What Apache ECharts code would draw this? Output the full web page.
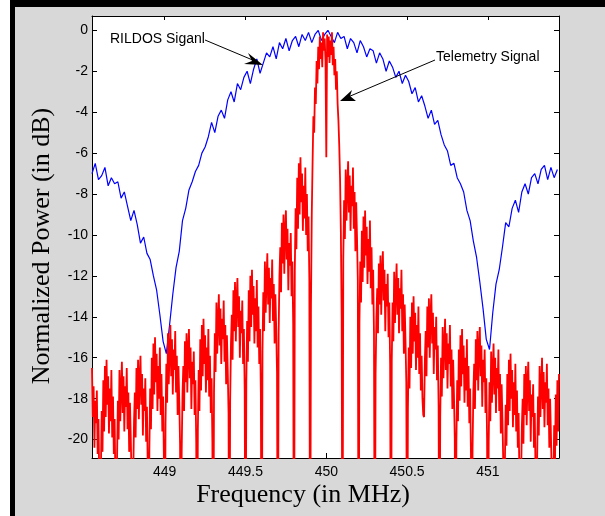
<!DOCTYPE html>
<html>
<head>
<meta charset="utf-8">
<script src="https://cdn.jsdelivr.net/npm/echarts@6/dist/echarts.min.js"></script>
<style>
  html, body { margin: 0; padding: 0; background: #fff; }
  #chart { width: 605px; height: 516px; }
</style>
</head>
<body>
<div id="chart"></div>
<script>
// sample grids (MHz)
const blueStart = 448.55, blueStep = 0.02;
const redStart = 448.55, redStep = 0.005;

// RILDOS signal, dB, one value every 0.02 MHz from 448.55
const bluePower = [
  -7.0, -6.5, -7.3, -7.1, -6.7, -7.6, -7.2, -7.5, -7.4, -8.2,
  -7.9, -8.6, -9.3, -8.8, -9.5, -10.4, -10.1, -10.9, -11.2, -12.0,
  -12.7, -13.9, -15.2,
  -15.8, -14.4, -12.9, -11.6, -10.8, -9.3, -8.7, -7.8, -7.4, -6.9,
  -6.6, -6.0, -5.7, -5.2, -4.5, -5.0, -4.2, -3.9, -4.3, -3.4,
  -3.0, -3.5, -2.6, -2.9, -2.3, -2.0, -2.6, -1.9, -1.4, -2.1,
  -1.6, -1.1, -1.3, -0.8, -1.4, -0.6, -0.9, -0.4, -1.0, -0.5,
  -0.3, -0.8, -0.2, -0.5, -0.1, -0.6, -0.2, 0.0, -0.5, -0.2,
  0.0, -0.3, -0.6, -0.1, -0.4, -0.3, -0.9, -0.4, -0.6, -1.1,
  -0.5, -0.8, -1.3, -0.9, -1.0, -1.6, -1.1, -1.4, -2.0, -1.5,
  -1.8, -2.3, -2.0, -2.6, -2.2, -2.5, -3.1, -2.8, -3.5, -3.2,
  -3.7, -4.3, -3.9, -4.6, -4.4, -5.1, -5.6, -5.9, -6.6, -6.5,
  -7.2, -7.5, -7.9, -8.8, -9.3, -10.3, -11.1, -12.3, -13.6, -15.1,
  -15.6, -13.8, -12.4, -11.7, -10.6, -9.4, -9.6, -8.7, -8.3, -8.9,
  -7.9, -7.5, -8.0, -7.2, -7.0, -7.5, -6.8, -6.6, -7.3, -6.7,
  -7.2, -6.8
];

// Telemetry signal, dB, one value every 0.005 MHz from 448.55
const redPower = [
  -16.5, -18.9, -17.4, -20.4, -18.1, -19.2, -17.6, -20.7, -19.0, -22.0,
  // 448.60
  -30, -21.6, -18.6, -20.6, -17.1, -19.6, -16.4, -18.9, -16.1, -18.3, -16.9, -19.7, -17.5, -19.1, -16.6, -19.9, -17.9, -20.7, -19.0, -22.1,
  -30, -21.0, -18.1, -20.0, -16.6, -19.1, -17.5, -16.2, -18.7, -16.9, -19.6, -17.4, -18.4, -16.5, -19.5, -17.7, -20.6, -18.2, -19.9, -22.0,
  -30, -21.9, -19.1, -17.7, -19.9, -16.5, -18.5, -16.1, -19.0, -16.9, -15.9, -18.3, -16.8, -19.8, -17.5, -18.6, -17.0, -20.1, -18.4, -21.4,
  -30, -20.5, -17.5, -19.5, -16.0, -18.5, -15.3, -17.8, -15.0, -17.2, -15.8, -18.6, -16.4, -18.0, -15.5, -18.8, -16.8, -19.6, -17.9, -21.0,
  // 449.00
  -30, -19.2, -16.3, -18.2, -14.8, -17.3, -15.7, -14.4, -16.9, -15.1, -17.8, -15.6, -16.6, -14.7, -17.7, -15.9, -18.8, -16.4, -18.1, -20.2,
  -30, -20.6, -17.8, -16.4, -18.6, -15.2, -17.2, -14.8, -17.7, -15.6, -14.6, -17.0, -15.5, -18.5, -16.2, -17.3, -15.7, -18.8, -17.1, -20.1,
  -30, -19.6, -16.6, -18.6, -15.1, -17.6, -14.4, -16.9, -14.1, -16.3, -14.9, -17.7, -15.5, -17.1, -14.6, -17.9, -15.9, -18.7, -17.0, -20.1,
  -30, -17.7, -14.8, -16.7, -13.3, -15.8, -14.2, -12.9, -15.4, -13.6, -16.3, -14.1, -15.1, -13.2, -16.2, -14.4, -17.3, -14.9, -16.6, -18.7,
  -30, -18.1, -15.3, -13.9, -16.1, -12.7, -14.7, -12.3, -15.2, -13.1, -12.1, -14.5, -13.0, -16.0, -13.7, -14.8, -13.2, -16.3, -14.6, -17.6,
  // 449.50
  -30, -17.2, -14.2, -16.2, -12.7, -15.2, -12.0, -14.5, -11.7, -13.9, -12.5, -15.3, -13.1, -14.7, -12.2, -15.5, -13.5, -16.3, -14.6, -17.7,
  -30, -15.7, -12.8, -14.7, -11.3, -13.8, -12.2, -10.9, -13.4, -11.6, -14.3, -12.1, -13.1, -11.2, -14.2, -12.4, -15.3, -12.9, -14.6, -16.7,
  -30, -14.8, -12.0, -10.6, -12.8, -9.4, -11.4, -9.0, -11.9, -9.8, -8.8, -11.2, -9.7, -12.7, -10.4, -11.5, -9.9, -13.0, -11.3, -14.3,
  -30, -11.7, -8.7, -10.7, -7.2, -9.7, -6.5, -9.0, -6.2, -8.4, -7.0, -9.8, -7.6, -9.2, -6.7, -10.0, -8.0, -10.8, -9.1, -12.2,
  // 449.90 main lobe
  -30, -13.5, -9.0, -6.5, -4.2, -5.0, -2.8, -3.6, -1.5, -2.6, -0.8, -1.9, -0.3, -1.4, -0.6, -1.8, -0.1, -1.0, -0.4, -1.5,
  -6.2, -0.2, -1.3, -0.3, -1.6, -0.5, -1.2, -0.1, -1.7, -0.8, -2.2, -1.4, -2.9, -2.0, -3.6, -4.4, -5.6, -7.2, -9.8, -14.0,
  // 450.10
  -30, -11.2, -8.3, -10.2, -6.8, -9.3, -7.7, -6.4, -8.9, -7.1, -9.8, -7.6, -8.6, -6.7, -9.7, -7.9, -10.8, -8.4, -10.1, -12.2,
  -30, -14.3, -11.3, -13.3, -9.8, -12.3, -9.1, -11.6, -8.8, -11.0, -9.6, -12.4, -10.2, -11.8, -9.3, -12.6, -10.6, -13.4, -11.7, -14.8,
  -30, -16.8, -14.0, -12.6, -14.8, -11.4, -13.4, -11.0, -13.9, -11.8, -10.8, -13.2, -11.7, -14.7, -12.4, -13.5, -11.9, -15.0, -13.3, -16.3,
  -30, -16.2, -13.3, -15.2, -11.8, -14.3, -12.7, -11.4, -13.9, -12.1, -14.8, -12.6, -13.6, -11.7, -14.7, -12.9, -15.8, -13.4, -15.1, -17.2,
  // 450.50
  -30, -18.5, -15.5, -17.5, -14.0, -16.5, -13.3, -15.8, -13.0, -15.2, -13.8, -16.6, -14.4, -16.0, -13.5, -16.8, -14.8, -17.6, -15.9, -18.0,
  -18.8, -18.9, -16.1, -14.7, -16.9, -13.5, -15.5, -13.1, -16.0, -13.9, -12.9, -15.3, -13.8, -16.8, -14.5, -15.6, -14.0, -17.1, -15.4, -18.4,
  -30, -18.9, -16.0, -17.9, -14.5, -17.0, -15.4, -14.1, -16.6, -14.8, -17.5, -15.3, -16.3, -14.4, -17.4, -15.6, -18.5, -16.1, -17.8, -19.9,
  -30, -20.1, -17.1, -19.1, -15.6, -18.1, -14.9, -17.4, -14.6, -16.8, -15.4, -18.2, -16.0, -17.6, -15.1, -18.4, -16.4, -19.2, -17.5, -20.6,
  -30, -20.5, -17.7, -16.3, -18.5, -15.1, -17.1, -14.7, -17.6, -15.5, -14.5, -16.9, -15.4, -18.4, -16.1, -17.2, -15.6, -18.7, -17.0, -20.0,
  // 451.00
  -30, -20.1, -17.2, -19.1, -15.7, -18.2, -16.6, -15.3, -17.8, -16.0, -18.7, -16.5, -17.5, -15.6, -18.6, -16.8, -19.7, -17.3, -19.0, -21.1,
  -30, -21.3, -18.3, -20.3, -16.8, -19.3, -16.1, -18.6, -15.8, -18.0, -16.6, -19.4, -17.2, -18.8, -16.3, -19.6, -17.6, -20.4, -18.7, -21.8,
  -30, -22.2, -19.4, -18.0, -20.2, -16.8, -18.8, -16.4, -19.3, -17.2, -16.2, -18.6, -17.1, -20.1, -17.8, -18.9, -17.3, -20.4, -18.7, -21.7,
  -30, -20.8, -17.9, -19.8, -16.4, -18.9, -17.3, -16.0, -18.5, -16.7, -19.4, -17.2, -18.2, -16.3, -19.3, -17.5, -20.4, -18.0, -19.7, -21.8,
  // 451.40
  -30, -22.3, -19.3, -21.3, -17.8, -20.3, -17.1, -19.6, -16.8
];

const xTicks = [449, 449.5, 450, 450.5, 451];
const yTicks = [0, -2, -4, -6, -8, -10, -12, -14, -16, -18, -20];

const toPairs = (vals, start, step) =>
  vals.map((v, i) => [+(start + i * step).toFixed(3), v]);

const chart = echarts.init(document.getElementById('chart'));

const tickFont = { fontFamily: 'Liberation Sans', fontSize: 14, color: '#000' };
const axisBase = {
  type: 'value',
  axisLine: { show: true, onZero: false, lineStyle: { color: '#000', width: 1 } },
  splitLine: { show: false }
};

const xBase = Object.assign({}, axisBase, { min: 448.55, max: 451.44 });
const yBase = Object.assign({}, axisBase, { min: -20.9, max: 0.7 });

chart.setOption({
  animation: false,
  backgroundColor: '#fff',
  grid: { left: 92, top: 16, width: 467, height: 442 },
  xAxis: [
    Object.assign({}, xBase, {
      position: 'bottom',
      axisTick: { inside: true, length: 5, customValues: xTicks, lineStyle: { color: '#000' } },
      axisLabel: Object.assign({ customValues: xTicks, margin: 7 }, tickFont)
    }),
    Object.assign({}, xBase, {
      position: 'top',
      axisTick: { inside: true, length: 4, customValues: xTicks, lineStyle: { color: '#000' } },
      axisLabel: { show: false }
    })
  ],
  yAxis: [
    Object.assign({}, yBase, {
      position: 'left',
      axisTick: { inside: true, length: 5, customValues: yTicks, lineStyle: { color: '#000' } },
      axisLabel: Object.assign({ customValues: yTicks, margin: 4 }, tickFont)
    }),
    Object.assign({}, yBase, {
      position: 'right',
      axisTick: { inside: true, length: 5, customValues: yTicks, lineStyle: { color: '#000' } },
      axisLabel: { show: false }
    })
  ],
  graphic: [
    // frame around the figure
    { type: 'rect', z: -10, shape: { x: 10, y: 0, width: 595, height: 516 }, style: { fill: '#d8d8d8' } },
    { type: 'rect', z: -9, shape: { x: 10, y: 0, width: 5, height: 516 }, style: { fill: '#000' } },
    { type: 'rect', z: -9, shape: { x: 10, y: 0, width: 595, height: 7 }, style: { fill: '#000' } },
    { type: 'rect', z: -8, shape: { x: 92, y: 16, width: 467, height: 442 }, style: { fill: '#fff' } },
    // axis titles
    {
      type: 'text', x: 303, y: 495,
      style: { text: 'Frequency (in MHz)', font: '26px "Liberation Serif"', fill: '#000', textAlign: 'center', textVerticalAlign: 'middle' }
    },
    {
      type: 'text', x: 42, y: 246, rotation: Math.PI / 2,
      style: { text: 'Normalized Power (in dB)', font: '26px "Liberation Serif"', fill: '#000', textAlign: 'center', textVerticalAlign: 'middle' }
    },
    // annotations
    {
      type: 'text', x: 110, y: 39, z: 20,
      style: { text: 'RILDOS Siganl', font: '14px "Liberation Sans"', fill: '#000', textVerticalAlign: 'middle' }
    },
    { type: 'line', z: 20, shape: { x1: 205, y1: 40, x2: 255, y2: 61 }, style: { stroke: '#000', lineWidth: 1 } },
    { type: 'polygon', z: 20, shape: { points: [[263, 65], [248, 53], [252, 61], [244, 64]] }, style: { fill: '#000' } },
    {
      type: 'text', x: 436, y: 57, z: 20,
      style: { text: 'Telemetry Signal', font: '14px "Liberation Sans"', fill: '#000', textVerticalAlign: 'middle' }
    },
    { type: 'line', z: 20, shape: { x1: 435, y1: 60, x2: 348, y2: 97 }, style: { stroke: '#000', lineWidth: 1 } },
    { type: 'polygon', z: 20, shape: { points: [[340, 101], [352, 90], [350, 96], [356, 101]] }, style: { fill: '#000' } }
  ],
  series: [
    {
      name: 'RILDOS Siganl',
      type: 'line',
      data: toPairs(bluePower, blueStart, blueStep),
      showSymbol: false,
      clip: true,
      z: 3,
      lineStyle: { color: '#0000ff', width: 1.2 }
    },
    {
      name: 'Telemetry Signal',
      type: 'line',
      data: toPairs(redPower, redStart, redStep),
      showSymbol: false,
      clip: true,
      z: 4,
      lineStyle: { color: '#ff0000', width: 1.8 }
    }
  ]
});
</script>
</body>
</html>
